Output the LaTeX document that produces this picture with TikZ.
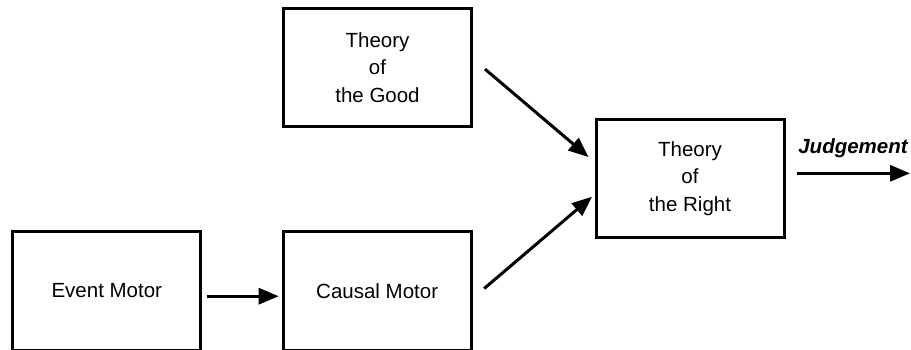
\documentclass[tikz,border=0pt]{standalone}
\usepackage{fontspec}
\setmainfont{Liberation Sans}
\usetikzlibrary{arrows.meta,calc}
\tikzset{
  box/.style={draw=black, line width=3pt, minimum width=188pt, minimum height=118pt, inner sep=0pt, align=center, font=\fontsize{20.5}{27.5}\selectfont},
  lowbox/.style={box, minimum height=119.5pt},
  arr/.style={line width=3pt, -{Triangle[length=20pt,width=16pt]}}
}
\begin{document}
\begin{tikzpicture}[x=1pt,y=-1pt]
\useasboundingbox (0,0) rectangle (911,349);
\clip (0,0) rectangle (911,349);
\fill[white] (0,0) rectangle (911,349);
\node[box] (gd) at (377.5,67.6) {Theory\\of\\the Good};
\node[box] (rt) at (690,178.5) {Theory\\of\\the Right};
\node[lowbox] (ev) at (106.8,290.8) {Event Motor};
\node[lowbox] (cm) at (377.2,290.8) {Causal Motor};
\draw[arr] ($(ev.east)+(5,5.4)$) -- ($(cm.west)+(-3,5.4)$);
\draw[arr] ($(gd.east)+(12,1.5)$) -- ($(rt.west)+(-6,-21.5)$);
\draw[arr] ($(cm.east)+(11.5,-2.3)$) -- ($(rt.west)+(-2.5,18.2)$);
\coordinate (jd) at (910,173.3);
\draw[arr] (rt.east |- jd) ++(11.5,0) -- (jd);
\node[anchor=base, font=\fontsize{20.5}{24}\selectfont\bfseries\itshape, inner sep=0pt] (jl) at (853,153) {Judgement};
\end{tikzpicture}
\end{document}
